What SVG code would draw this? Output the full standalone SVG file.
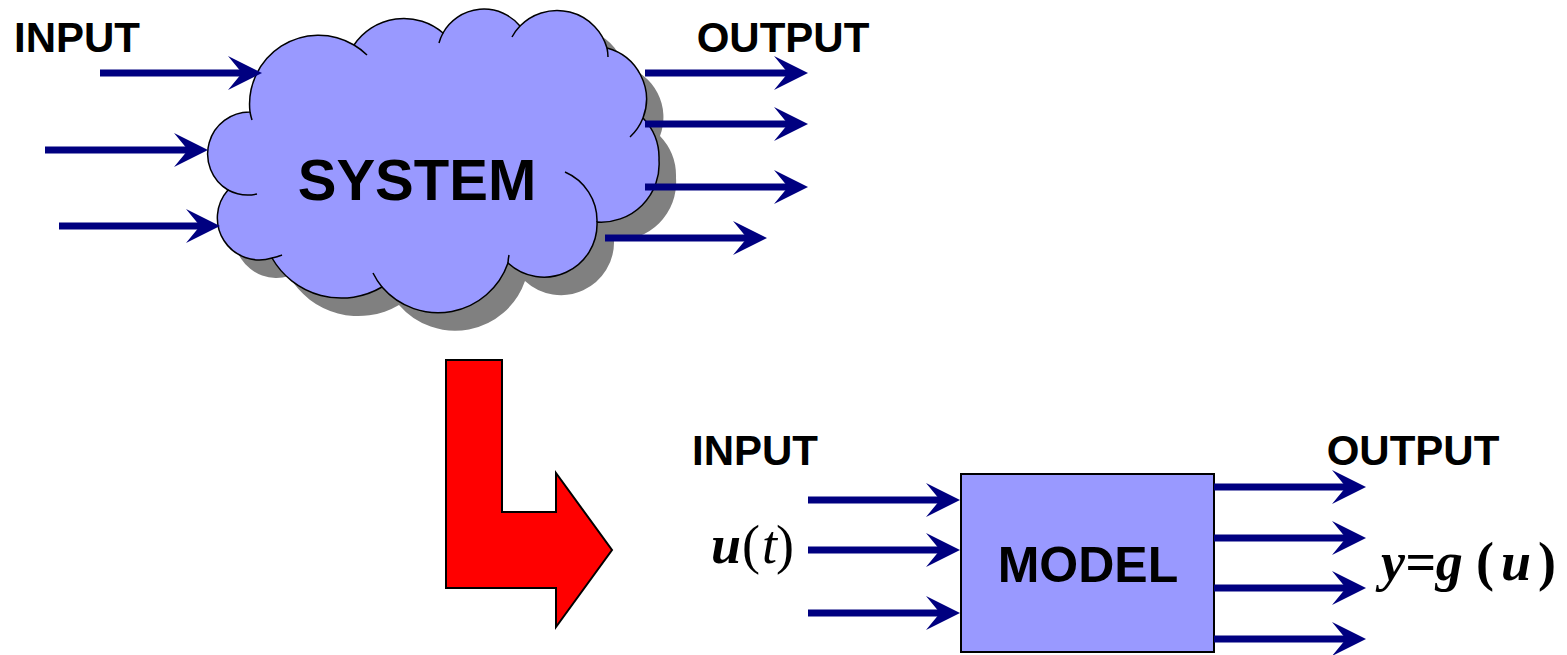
<svg xmlns="http://www.w3.org/2000/svg" width="1567" height="655" viewBox="0 0 1567 655">
<style>
.lbl{font-family:"Liberation Sans",Arial,sans-serif;font-weight:bold;fill:#000}
.math{font-family:"Liberation Serif","Times New Roman",serif;font-size:54px;fill:#000}
.bi{font-weight:bold;font-style:italic}
.conn line{stroke:#000080;stroke-width:7;fill:none;marker-end:url(#ah)}
.cloud{fill:#9999FF;stroke:#000;stroke-width:1.5}
.tail{fill:none;stroke:#000;stroke-width:1.5}
</style>
<defs>
<marker id="ah" markerUnits="userSpaceOnUse" markerWidth="40" markerHeight="40" viewBox="-16 -20 40 40" refX="0" refY="0" orient="auto">
<path d="M20,0 L-14,-17 L0,0 L-14,17 Z" fill="#000080"/>
</marker>
<path id="cloudShape" d="M250,112 A69,69 0 0,1 354,45 A60,60 0 0,1 443,33 A47,47 0 0,1 520,26 A52,52 0 0,1 607,48 A53,53 0 0,1 643,118 A58,58 0 0,1 659,160 A58,58 0 0,1 597,222 A53,53 0 0,1 508,263 A74,74 0 0,1 382,287 A80,80 0 0,1 272,258 A42,42 0 0,1 228,190 A42,42 0 0,1 250,112 Z"/>
</defs>
<rect width="1567" height="655" fill="#fff"/>

<g id="system">
<use href="#cloudShape" transform="translate(17,18)" fill="#808080"/>
<use href="#cloudShape" class="cloud"/>
<path class="tail" d="M257,194 A42,42 0 0,1 228,190 M252,120 A69,69 0 0,1 250,112 M354,45 A69,69 0 0,1 367,55 M439,43 A47,47 0 0,1 443,33 M512,37 A52,52 0 0,1 520,26 M607,48 A52,52 0 0,1 608,57 M643,118 A53,53 0 0,1 630,137 M565,172 A53,53 0 0,1 597,222 M508,263 A53,53 0 0,1 509,255 M382,287 A74,74 0 0,1 373,273 M282,255 A42,42 0 0,1 272,258"/>
<text class="lbl" x="417" y="200" font-size="58" text-anchor="middle">SYSTEM</text>
</g>

<g id="transform-arrow">
<polygon points="446,360 502,360 502,512 556,512 556,473 612,550 556,627 556,588 446,588" fill="#FF0000" stroke="#000" stroke-width="2"/>
</g>

<g id="model">
<rect x="961" y="474" width="253" height="178" fill="#9999FF" stroke="#000" stroke-width="2"/>
<text class="lbl" x="1088" y="582" font-size="50" text-anchor="middle">MODEL</text>
</g>

<g id="labels">
<text class="lbl" x="77" y="52" font-size="42" text-anchor="middle">INPUT</text>
<text class="lbl" x="783" y="52" font-size="42" text-anchor="middle">OUTPUT</text>
<text class="lbl" x="755" y="465" font-size="42" text-anchor="middle">INPUT</text>
<text class="lbl" x="1413" y="465" font-size="42" text-anchor="middle">OUTPUT</text>
<text class="math" y="563"><tspan x="711" class="bi">u</tspan><tspan x="742">(</tspan><tspan x="762" font-style="italic">t</tspan><tspan x="776">)</tspan></text>
<text class="math" y="580"><tspan x="1381" class="bi">y=g</tspan><tspan x="1476" font-weight="bold">(</tspan><tspan x="1501" class="bi">u</tspan><tspan x="1538" font-weight="bold">)</tspan></text>
</g>

<g id="connectors" class="conn">
<line x1="100" y1="73" x2="242" y2="73"/>
<line x1="45" y1="150" x2="188" y2="150"/>
<line x1="59" y1="226" x2="200" y2="226"/>
<line x1="645" y1="73" x2="788" y2="73"/>
<line x1="645" y1="124" x2="788" y2="124"/>
<line x1="645" y1="187" x2="788" y2="187"/>
<line x1="605" y1="238" x2="747" y2="238"/>
<line x1="808" y1="500" x2="940" y2="500"/>
<line x1="808" y1="550" x2="940" y2="550"/>
<line x1="808" y1="613" x2="940" y2="613"/>
<line x1="1214" y1="487" x2="1346" y2="487"/>
<line x1="1214" y1="538" x2="1346" y2="538"/>
<line x1="1214" y1="588" x2="1346" y2="588"/>
<line x1="1214" y1="639" x2="1346" y2="639"/>
</g>
</svg>
